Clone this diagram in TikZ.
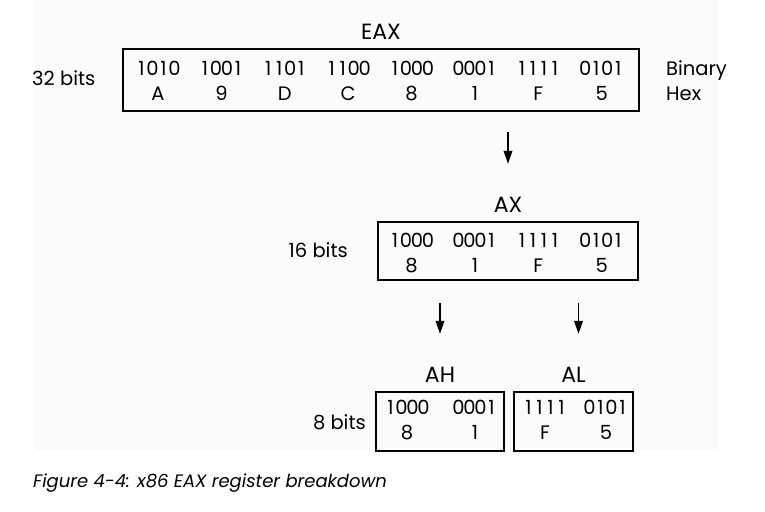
\documentclass[tikz,border=0pt]{standalone}
\usepackage{fontspec}
\setmainfont{Poppins}
\usetikzlibrary{arrows.meta}

\definecolor{bgpaper}{RGB}{251,251,251}
\newcommand\nibble[4]{\makebox[11pt]{#1}\makebox[11pt]{#2}\makebox[11pt]{#3}\makebox[11pt]{#4}}

\tikzset{
  reg/.style={draw, line width=2.2pt, inner sep=0pt},
  bits/.style={inner sep=0pt, anchor=base, font=\fontsize{19.5}{22}\selectfont},
  lbl/.style={inner sep=0pt, label distance=8pt, font=\fontsize{22}{26}\selectfont},
  arr/.style={->, line width=1.8pt}
}

\begin{document}
\begin{tikzpicture}[x=1pt, y=-1pt, >={Triangle[length=13pt,width=8.5pt]}]
      \useasboundingbox (0,0) rectangle (765,511) ;
      \fill[bgpaper] (35,0) rectangle (718,450) ;
      % the registers
      \node[reg, minimum width=516pt, minimum height=62pt, %
        label={[lbl]above:EAX}] (EAX) at (381,80) {} ;
      \node[reg, minimum width=260pt, minimum height=58pt, %
        label={[lbl]above:AX}] (AX) at (508,251) {} ;
      \node[reg, minimum width=128pt, minimum height=59pt, %
        label={[lbl]above:AH}] (AH) at (440,421.5) {} ;
      \node[reg, minimum width=119pt, minimum height=59pt, %
        label={[lbl]above:AL}] (AL) at (573.5,421.5) {} ;
      % contents
      \foreach \b/\h [count=\i from 0] in %
        {1010/A,1001/9,1101/D,1100/C,1000/8,0001/1,1111/F,0101/5} {
        \node[bits] (eaxb\i) at ({158+63.4*\i},75) {\expandafter\nibble\b} ;
        \node[bits] (eaxh\i) at ({158+63.4*\i},100) {\h} ;
      }
      \foreach \b/\h [count=\i from 4] in {1000/8,0001/1,1111/F,0101/5} {
        \node[bits] (axb\i) at ({158+63.4*\i},247) {\expandafter\nibble\b} ;
        \node[bits] (axh\i) at ({158+63.4*\i},272) {\h} ;
      }
      \foreach \b/\h/\x [count=\i] in %
        {1000/8/407,0001/1/475,1111/F/545,0101/5/606} {
        \node[bits] (lob\i) at (\x,414) {\expandafter\nibble\b} ;
        \node[bits] (loh\i) at (\x,439) {\h} ;
      }
      % side labels
      \node[bits, anchor=base west] (w32) at (32,85) {32 bits} ;
      \node[bits, anchor=base east] (w16) at (348,257) {16 bits} ;
      \node[bits, anchor=base east] (w8) at (366,429) {8 bits} ;
      \node[bits, anchor=base west] (bin) at (666,75) {Binary} ;
      \node[bits, anchor=base west] (hex) at (666,100) {Hex} ;
      % arrows
      \draw[arr, shorten <=20pt, shorten >=57pt] (EAX.south -| AX.north) -- (AX.north) ;
      \draw[arr, shorten <=22pt, shorten >=57pt] (AX.south -| AH.north) -- (AH.north) ;
      \draw[arr, shorten <=22pt, shorten >=57pt] %
        ([xshift=5pt]AX.south -| AL.north) -- ([xshift=5pt]AL.north) ;
      % caption
      \node[inner sep=0pt, anchor=base west, font=\fontsize{18}{22}\selectfont\itshape] %
        (cap) at (33,487) {Figure 4-4: x86 EAX register breakdown} ;
    \end{tikzpicture}
\end{document}
